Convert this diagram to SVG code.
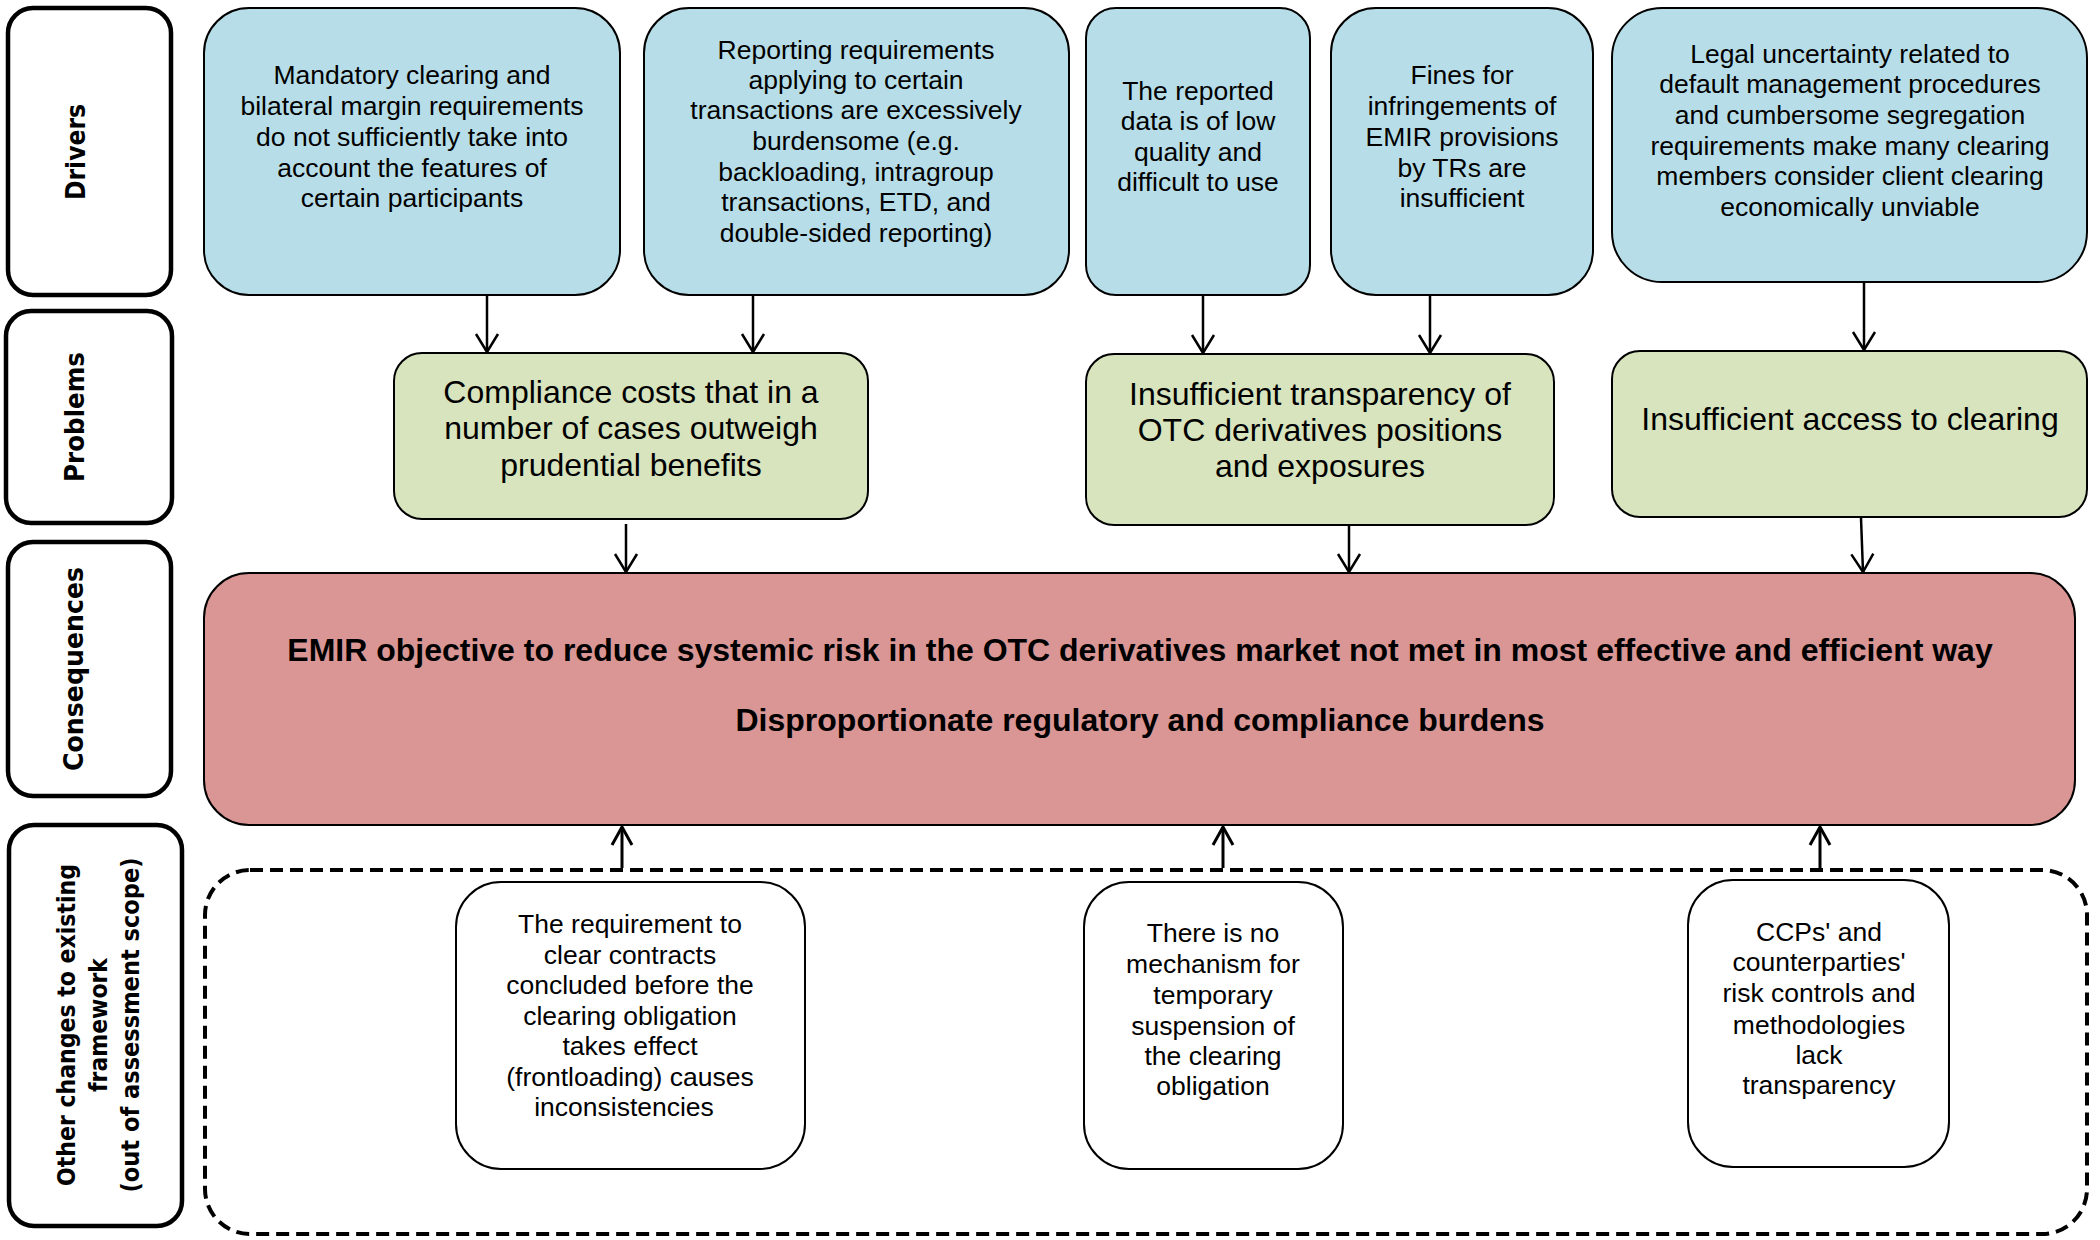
<svg xmlns="http://www.w3.org/2000/svg" width="2100" height="1240" viewBox="0 0 2100 1240">
<style>
.lab{fill:#fff;stroke:#000;stroke-width:4.5}
.lt{font-family:"DejaVu Sans",Verdana,sans-serif;font-weight:bold;font-size:27px;fill:#000}
.lt2{font-family:"DejaVu Sans",Verdana,sans-serif;font-weight:bold;font-size:24.5px;fill:#000}
.drv{fill:#b7dee8;stroke:#000;stroke-width:2}
.prb{fill:#d7e4bd;stroke:#000;stroke-width:2}
.con{fill:#d99694;stroke:#000;stroke-width:2}
.oth{fill:#fff;stroke:#000;stroke-width:2}
.dash{fill:none;stroke:#000;stroke-width:4;stroke-dasharray:13 7}
.t{font-family:"Liberation Sans",Arial,sans-serif;font-size:26.5px;fill:#000;text-anchor:middle}
.tp{font-family:"Liberation Sans",Arial,sans-serif;font-size:32px;fill:#000;text-anchor:middle}
.tc{font-family:"Liberation Sans",Arial,sans-serif;font-size:32px;font-weight:bold;fill:#000;text-anchor:middle}
.arr{stroke:#000;stroke-width:2.5;fill:none;marker-end:url(#ah)}
.arr2{stroke:#000;stroke-width:3;fill:none;marker-end:url(#ah2)}
</style>
<defs>
<marker id="ah" markerUnits="userSpaceOnUse" viewBox="-20 -13 22 26" markerWidth="22" markerHeight="26" refX="0" refY="0" orient="auto">
<path d="M-18,-11 L0,0 L-18,11" fill="none" stroke="#000" stroke-width="2.5"/>
</marker>
<marker id="ah2" markerUnits="userSpaceOnUse" viewBox="-20 -13 22 26" markerWidth="22" markerHeight="26" refX="0" refY="0" orient="auto">
<path d="M-18,-10 L0,0 L-18,10" fill="none" stroke="#000" stroke-width="3"/>
</marker>
</defs>
<rect width="2100" height="1240" fill="#fff"/>

<g id="label-drivers">
<rect class="lab" x="8" y="8" width="163" height="287" rx="25"/>
<text class="lt" transform="translate(85,152) rotate(-90)" text-anchor="middle" textLength="96" lengthAdjust="spacingAndGlyphs">Drivers</text>
</g>
<g id="label-problems">
<rect class="lab" x="6" y="311" width="166" height="212" rx="25"/>
<text class="lt" transform="translate(84,417) rotate(-90)" text-anchor="middle" textLength="130" lengthAdjust="spacingAndGlyphs">Problems</text>
</g>
<g id="label-consequences">
<rect class="lab" x="8" y="542" width="163" height="254" rx="25"/>
<text class="lt" transform="translate(83,669) rotate(-90)" text-anchor="middle" textLength="204" lengthAdjust="spacingAndGlyphs">Consequences</text>
</g>
<g id="label-other">
<rect class="lab" x="9" y="825" width="173" height="401" rx="25"/>
<g transform="translate(0,1025) rotate(-90)">
<text class="lt2" x="0" y="75" text-anchor="middle" textLength="322" lengthAdjust="spacingAndGlyphs">Other changes to existing</text>
<text class="lt2" x="0" y="107" text-anchor="middle" textLength="134" lengthAdjust="spacingAndGlyphs">framework</text>
<text class="lt2" x="0" y="139" text-anchor="middle" textLength="335" lengthAdjust="spacingAndGlyphs">(out of assessment scope)</text>
</g>
</g>

<g id="d1">
<rect class="drv" x="204" y="8" width="416" height="287" rx="45"/>
<text class="t"><tspan x="412" y="84.4">Mandatory clearing and</tspan><tspan x="412" y="115.3">bilateral margin requirements</tspan><tspan x="412" y="145.7">do not sufficiently take into</tspan><tspan x="412" y="176.6">account the features of</tspan><tspan x="412" y="207">certain participants</tspan></text>
</g>
<g id="d2">
<rect class="drv" x="644" y="8" width="425" height="287" rx="45"/>
<text class="t"><tspan x="856" y="58.7">Reporting requirements</tspan><tspan x="856" y="88.9">applying to certain</tspan><tspan x="856" y="119.4">transactions are excessively</tspan><tspan x="856" y="149.9">burdensome (e.g.</tspan><tspan x="856" y="180.5">backloading, intragroup</tspan><tspan x="856" y="211">transactions, ETD, and</tspan><tspan x="856" y="241.8">double-sided reporting)</tspan></text>
</g>
<g id="d3">
<rect class="drv" x="1086" y="8" width="224" height="287" rx="30"/>
<text class="t"><tspan x="1198" y="99.5">The reported</tspan><tspan x="1198" y="130">data is of low</tspan><tspan x="1198" y="160.7">quality and</tspan><tspan x="1198" y="191.2">difficult to use</tspan></text>
</g>
<g id="d4">
<rect class="drv" x="1331" y="8" width="262" height="287" rx="45"/>
<text class="t"><tspan x="1462" y="84.4">Fines for</tspan><tspan x="1462" y="115.3">infringements of</tspan><tspan x="1462" y="145.7">EMIR provisions</tspan><tspan x="1462" y="176.6">by TRs are</tspan><tspan x="1462" y="207">insufficient</tspan></text>
</g>
<g id="d5">
<rect class="drv" x="1612" y="8" width="475" height="274" rx="50"/>
<text class="t"><tspan x="1850" y="62.7">Legal uncertainty related to</tspan><tspan x="1850" y="93.3">default management procedures</tspan><tspan x="1850" y="123.9">and cumbersome segregation</tspan><tspan x="1850" y="154.5">requirements make many clearing</tspan><tspan x="1850" y="185.1">members consider client clearing</tspan><tspan x="1850" y="215.7">economically unviable</tspan></text>
</g>

<g id="p1">
<rect class="prb" x="394" y="353" width="474" height="166" rx="28"/>
<text class="tp"><tspan x="631" y="402.7">Compliance costs that in a</tspan><tspan x="631" y="439.3">number of cases outweigh</tspan><tspan x="631" y="475.9">prudential benefits</tspan></text>
</g>
<g id="p2">
<rect class="prb" x="1086" y="354" width="468" height="171" rx="28"/>
<text class="tp"><tspan x="1320" y="404.6">Insufficient transparency of</tspan><tspan x="1320" y="440.6">OTC derivatives positions</tspan><tspan x="1320" y="477">and exposures</tspan></text>
</g>
<g id="p3">
<rect class="prb" x="1612" y="351" width="475" height="166" rx="28"/>
<text class="tp" x="1850" y="430.3">Insufficient access to clearing</text>
</g>

<g id="consequences">
<rect class="con" x="204" y="573" width="1871" height="252" rx="45"/>
<text class="tc" x="1140" y="660.5">EMIR objective to reduce systemic risk in the OTC derivatives market not met in most effective and efficient way</text>
<text class="tc" x="1140" y="730.5">Disproportionate regulatory and compliance burdens</text>
</g>

<g id="other-frame">
<rect class="dash" x="205" y="870" width="1882" height="364" rx="45"/>
</g>
<g id="b1">
<rect class="oth" x="456" y="882" width="349" height="287" rx="45"/>
<text class="t"><tspan x="630" y="933.2">The requirement to</tspan><tspan x="630" y="963.6">clear contracts</tspan><tspan x="630" y="994.4">concluded before the</tspan><tspan x="630" y="1024.7">clearing obligation</tspan><tspan x="630" y="1055.1">takes effect</tspan><tspan x="630" y="1085.5">(frontloading) causes</tspan><tspan x="624" y="1116.3">inconsistencies</tspan></text>
</g>
<g id="b2">
<rect class="oth" x="1084" y="882" width="259" height="287" rx="45"/>
<text class="t"><tspan x="1213" y="942.2">There is no</tspan><tspan x="1213" y="972.5">mechanism for</tspan><tspan x="1213" y="1003.8">temporary</tspan><tspan x="1213" y="1034.6">suspension of</tspan><tspan x="1213" y="1064.9">the clearing</tspan><tspan x="1213" y="1094.8">obligation</tspan></text>
</g>
<g id="b3">
<rect class="oth" x="1688" y="880" width="261" height="287" rx="45"/>
<text class="t"><tspan x="1819" y="941.3">CCPs' and</tspan><tspan x="1819" y="971.2">counterparties'</tspan><tspan x="1819" y="1002.4">risk controls and</tspan><tspan x="1819" y="1033.7">methodologies</tspan><tspan x="1819" y="1063.6">lack</tspan><tspan x="1819" y="1093.9">transparency</tspan></text>
</g>

<g id="connectors">
<line class="arr" x1="487" y1="296" x2="487" y2="352"/>
<line class="arr" x1="753" y1="296" x2="753" y2="352"/>
<line class="arr" x1="1203" y1="296" x2="1203" y2="353"/>
<line class="arr" x1="1430" y1="296" x2="1430" y2="353"/>
<line class="arr" x1="1864" y1="283" x2="1864" y2="350"/>
<line class="arr" x1="626" y1="524" x2="626" y2="572"/>
<line class="arr" x1="1349" y1="526" x2="1349" y2="572"/>
<line class="arr" x1="1861" y1="518" x2="1863" y2="572"/>
<line class="arr2" x1="622" y1="868" x2="622" y2="827"/>
<line class="arr2" x1="1223" y1="868" x2="1223" y2="827"/>
<line class="arr2" x1="1820" y1="868" x2="1820" y2="827"/>
</g>
</svg>
